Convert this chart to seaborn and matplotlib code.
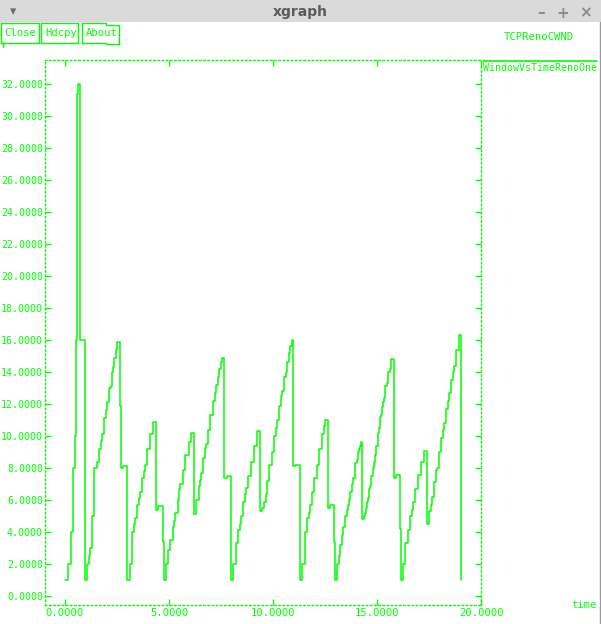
import pandas as pd
import matplotlib.pyplot as plt
import seaborn as sns
from matplotlib.patches import Rectangle
from matplotlib.lines import Line2D
from matplotlib.ticker import FormatStrFormatter

# congestion window trace (time in s, cwnd in packets)
time_s = [0.00, 0.13, 0.27, 0.37, 0.47, 0.51, 0.59, 0.64, 0.74, 0.98,
          1.07, 1.17, 1.22, 1.31, 1.41, 1.55, 1.65, 1.75, 1.79, 1.89,
          1.99, 2.03, 2.13, 2.23, 2.27, 2.32, 2.37, 2.47, 2.51, 2.66,
          2.71, 2.80, 3.00, 3.14, 3.24, 3.33, 3.38, 3.48, 3.57, 3.62,
          3.72, 3.81, 3.86, 3.96, 4.10, 4.25, 4.39, 4.49, 4.69, 4.74,
          4.84, 4.94, 5.07, 5.17, 5.26, 5.31, 5.41, 5.50, 5.55, 5.65,
          5.79, 5.94, 6.08, 6.18, 6.32, 6.42, 6.50, 6.55, 6.65, 6.75,
          6.79, 6.89, 6.99, 7.13, 7.23, 7.27, 7.37, 7.42, 7.51, 7.56,
          7.66, 7.80, 8.00, 8.09, 8.24, 8.33, 8.43, 8.48, 8.57, 8.67,
          8.72, 8.81, 8.96, 9.10, 9.24, 9.39, 9.49, 9.58, 9.68, 9.73,
          9.82, 9.97, 10.06, 10.16, 10.21, 10.30, 10.40, 10.45, 10.54, 10.64,
          10.69, 10.78, 10.83, 10.93, 10.94, 10.98, 11.07, 11.31, 11.41, 11.55,
          11.65, 11.75, 11.79, 11.89, 11.99, 12.13, 12.23, 12.37, 12.47, 12.51,
          12.66, 12.75, 12.95, 13.00, 13.09, 13.19, 13.24, 13.33, 13.38, 13.48,
          13.57, 13.62, 13.67, 13.72, 13.81, 13.86, 13.96, 14.05, 14.10, 14.15,
          14.20, 14.25, 14.26, 14.29, 14.39, 14.44, 14.49, 14.53, 14.58, 14.63,
          14.68, 14.73, 14.82, 14.87, 14.92, 14.97, 15.06, 15.11, 15.16, 15.21,
          15.25, 15.30, 15.35, 15.40, 15.50, 15.54, 15.64, 15.69, 15.83, 15.93,
          16.12, 16.17, 16.26, 16.36, 16.50, 16.60, 16.70, 16.74, 16.84, 16.99,
          17.13, 17.28, 17.42, 17.51, 17.61, 17.66, 17.76, 17.85, 17.90, 18.00,
          18.09, 18.19, 18.24, 18.33, 18.43, 18.48, 18.57, 18.67, 18.72, 18.81,
          18.96, 19.06]
cwnd = [1, 2, 4, 8, 10, 16, 31.4, 32, 16, 1,
        2, 2.5, 3, 5, 8, 8.4, 9.2, 9.7, 10.1, 11.1,
        11.6, 12.1, 13.0, 13.1, 14.0, 14.3, 14.9, 15.4, 15.9, 11.9,
        8.0, 8.1, 1, 2, 4, 4.5, 4.9, 5.7, 6.1, 6.5,
        7.4, 7.8, 8.2, 9.2, 10.1, 10.9, 5.4, 5.6, 3.35, 1,
        2, 2.9, 3.5, 4.3, 4.7, 5.2, 6.0, 6.7, 7.0, 7.9,
        8.8, 9.6, 10.2, 5.1, 6.0, 6.9, 7.25, 7.7, 8.6, 9.25,
        9.5, 10.4, 11.3, 12.2, 12.7, 13.2, 13.7, 14.2, 14.6, 14.9,
        7.4, 7.5, 1, 2, 3.3, 4.1, 4.5, 5.0, 5.9, 6.4,
        6.75, 7.5, 8.4, 9.35, 10.3, 5.3, 5.5, 5.9, 6.4, 7.2,
        8.2, 9.0, 10.0, 10.5, 11.0, 11.9, 12.5, 12.8, 13.7, 14.0,
        14.6, 15.2, 15.6, 16.0, 12.1, 8.1, 8.2, 1, 2, 4,
        4.85, 5.2, 5.7, 6.5, 7.4, 8.2, 9.2, 10.1, 10.6, 11.0,
        5.5, 5.7, 3.4, 1, 2, 2.5, 3.2, 3.8, 4.3, 5.0,
        5.4, 5.7, 6.0, 6.5, 7.0, 7.4, 8.3, 8.5, 9.0, 9.2,
        9.4, 9.6, 7.2, 4.8, 5.0, 5.2, 5.5, 5.9, 6.1, 6.7,
        6.85, 7.5, 8.0, 8.4, 8.8, 9.35, 10.2, 10.5, 11.2, 11.3,
        11.8, 12.1, 12.4, 13.1, 13.3, 14.0, 14.2, 14.8, 7.35, 7.55,
        4.2, 1, 2, 3.3, 4.1, 5.0, 5.4, 5.9, 6.7, 7.55,
        8.4, 9.05, 4.5, 5.3, 5.7, 6.2, 7.1, 7.9, 8.0, 9.0,
        9.9, 10.35, 10.8, 11.7, 12.2, 12.7, 13.5, 14.0, 14.4, 15.35,
        16.3, 1]

x_ticks = [0, 5, 10, 15, 20]
y_ticks = list(range(0, 33, 2))
buttons = ['Close', 'Hdcpy', 'About']

GREEN = '#00ff00'
W, H = 601, 624
FS = 7.2

sns.set_style('white')
plt.rcParams['font.family'] = ['DejaVu Sans Mono']


def fx(px):
    return px / W


def fy(py):
    return 1 - py / H


def fig_line(xs, ys, **kw):
    fig.add_artist(Line2D([fx(v) for v in xs], [fy(v) for v in ys],
                          transform=fig.transFigure, **kw))


df = pd.DataFrame({'time': time_s, 'cwnd': cwnd})

fig = plt.figure(figsize=(W / 100, H / 100), dpi=100)
fig.patch.set_facecolor('white')

# title bar of the xgraph window
fig.add_artist(Rectangle((0, fy(22)), 1, 22 / H, transform=fig.transFigure,
                         facecolor='#dadada', edgecolor='none'))
fig.text(fx(300), fy(12), 'xgraph', ha='center', va='center', fontsize=10,
         fontweight='bold', color='#5a5a5a', family='DejaVu Sans')
fig.text(fx(13), fy(12), '\u25be', ha='center', va='center', fontsize=9,
         color='#6a6a6a', family='DejaVu Sans')
for px, s in [(541, '\u2013'), (563, '+'), (585, '\u00d7')]:
    fig.text(fx(px), fy(13), s, ha='center', va='center', fontsize=11,
             fontweight='bold', color='#8a8a8a', family='DejaVu Sans')
fig_line([599.5, 599.5], [22, H], color='#9a9a9a', lw=1)

# buttons
fig_line([0.5, 39, 39, 0.5, 0.5], [23, 23, 43, 43, 23], color=GREEN, lw=1)
fig_line([41, 78, 78, 41, 41], [23, 23, 43, 43, 23], color=GREEN, lw=1)
fig_line([82, 106, 106, 119, 119, 106, 106, 82, 82],
         [23, 23, 24.5, 24.5, 44, 44, 43, 43, 23], color=GREEN, lw=1)
for px, name in zip([4, 45, 86], buttons):
    fig.text(fx(px), fy(33), name, ha='left', va='center', fontsize=7.6,
             color=GREEN)
fig_line([3, 3], [43, 47], color=GREEN, lw=1)

fig.text(fx(504), fy(37), 'TCPRenoCWND', ha='left', va='center', fontsize=7.6,
         color=GREEN)

# plot area
ax = fig.add_axes([fx(45), fy(605), (481 - 45) / W, (605 - 60) / H])
ax.set_facecolor('white')
sns.lineplot(data=df, x='time', y='cwnd', drawstyle='steps-post', estimator=None,
             sort=False, color=GREEN, lw=1.1, ax=ax)

ax.set_xlim((45 - 65) / 20.8, 20)
ax.set_ylim((596 - 605) / 16, (596 - 60) / 16)
ax.set_xticks(x_ticks)
ax.set_yticks(y_ticks)
ax.xaxis.set_major_formatter(FormatStrFormatter('%.4f'))
ax.yaxis.set_major_formatter(FormatStrFormatter('%.4f'))
ax.set_xlabel('')
ax.set_ylabel('')
ax.tick_params(axis='both', which='major', direction='in', length=4, width=1,
               colors=GREEN, labelsize=FS, pad=1.5,
               top=True, right=True, bottom=True, left=True)
ax.tick_params(axis='x', pad=2.5, labelsize=7.6)
for sp in ax.spines.values():
    sp.set_color(GREEN)
    sp.set_linewidth(1)
    sp.set_linestyle((0, (1, 2)))
for t in ax.get_xticklines() + ax.get_yticklines():
    t.set_linestyle((0, (1, 1)))

# legend entry on the right
fig_line([483, 597], [61, 61], color=GREEN, lw=1.2)
fig.text(fx(483), fy(68), 'WindowVsTimeRenoOne', ha='left', va='center',
         fontsize=FS, color=GREEN)
fig.text(fx(597), fy(605), 'time', ha='right', va='center', fontsize=7.6,
         color=GREEN)

fig.savefig('out.png', dpi=100)
plt.close(fig)
